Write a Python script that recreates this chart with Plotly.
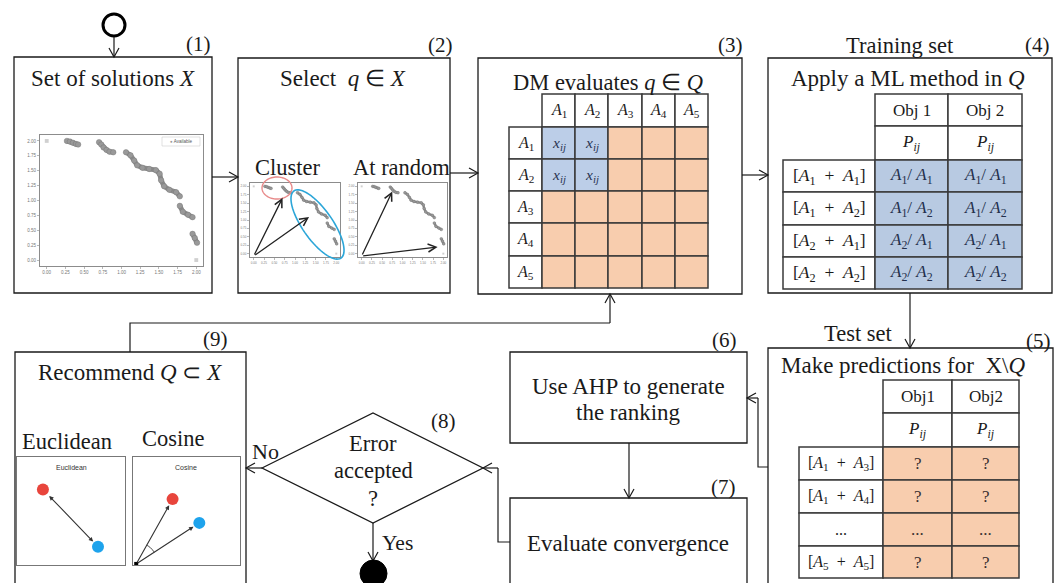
import re
import numpy as np
import plotly.graph_objects as go

W, H = 1062, 583

# ---------------- data ----------------
# Pareto front shown in the small scatter plots (None = gap between segments)
front_x = [0.27, 0.31, 0.35, 0.39, 0.42, None,
           0.70, 0.73, 0.76, 0.80, 0.84, 0.89, None,
           1.06, 1.12, 1.17, 1.21, 1.28, 1.37, 1.46, 1.51, 1.53, 1.57, 1.64, 1.73, 1.78, None,
           1.78, 1.82, 1.89, 1.95, None,
           1.95, 1.98, 2.01]
front_y = [2.00, 1.99, 1.97, 1.95, 1.94, None,
           1.98, 1.94, 1.89, 1.85, 1.82, 1.81, None,
           1.81, 1.76, 1.67, 1.59, 1.55, 1.53, 1.51, 1.45, 1.34, 1.24, 1.18, 1.14, 1.07, None,
           0.91, 0.81, 0.76, 0.72, None,
           0.44, 0.37, 0.29]
extreme_x = [0.00, 2.00]
extreme_y = [2.00, 0.00]
axis_ticks = [0.00, 0.25, 0.50, 0.75, 1.00, 1.25, 1.50, 1.75, 2.00]
axis_tick_text = ["0.00", "0.25", "0.50", "0.75", "1.00", "1.25", "1.50", "1.75", "2.00"]

cluster_picks_x = [0.70, 1.34]
cluster_picks_y = [1.66, 1.09]
random_picks_x = [0.75, 1.86]
random_picks_y = [1.85, 0.20]

alternatives = ["A1", "A2", "A3", "A4", "A5"]
evaluated = ["A1", "A2"]
pair_value = "xij"

objectives_train = ["Obj 1", "Obj 2"]
train_rows = ["[A1 + A1]", "[A1 + A2]", "[A2 + A1]", "[A2 + A2]"]
train_values = [["A1/ A1", "A1/ A1"], ["A1/ A2", "A1/ A2"],
                ["A2/ A1", "A2/ A1"], ["A2/ A2", "A2/ A2"]]

objectives_test = ["Obj1", "Obj2"]
test_rows = ["[A1 + A3]", "[A1 + A4]", "...", "[A5 + A5]"]
test_values = [["?", "?"], ["?", "?"], ["...", "..."], ["?", "?"]]

euclid_x = [0.24, 0.75]
euclid_y = [0.70, 0.17]
cosine_x = [0.37, 0.62]
cosine_y = [0.61, 0.39]
cosine_origin_x = [0.03]
cosine_origin_y = [0.01]
dot_colors = ["#e8453c", "#1ea3ec"]

# ---------------- styles ----------------
SERIF = "Liberation Serif, Times New Roman, serif"
SANS = "Liberation Sans, Arial, sans-serif"
INK = "#1a1a1a"
GRID = "#3a3a3a"
BLUE = "#bccee8"
BLUE2 = "#b8cae2"
ORANGE = "#f8cdae"
T = 23      # main text size
N = 21      # step number size


def math(s):
    s = re.sub(r"A(\d)", r"<i>A</i><sub>\1</sub>", s)
    s = s.replace("xij", "<i>x</i><sub><i>ij</i></sub>")
    s = s.replace("Pij", "<i>P</i><sub><i>ij</i></sub>")
    s = s.replace(" + ", "\u2002+\u2002")
    return s


shapes = []
annotations = []


def rect(x0, y0, x1, y1, fill="rgba(0,0,0,0)", color=INK, width=1.3):
    shapes.append(dict(type="rect", xref="x", yref="y", x0=x0, y0=y0, x1=x1, y1=y1,
                       line=dict(color=color, width=width), fillcolor=fill, layer="above"))


def path(p, color=INK, width=1.2, fill="rgba(0,0,0,0)", xref="x", yref="y"):
    shapes.append(dict(type="path", xref=xref, yref=yref, path=p,
                       line=dict(color=color, width=width), fillcolor=fill, layer="above"))


def text(x, y, s, size=T, family=SERIF, color=INK, xanchor="center"):
    annotations.append(dict(x=x, y=y, xref="x", yref="y", text=s, showarrow=False,
                            font=dict(size=size, family=family, color=color),
                            xanchor=xanchor, yanchor="middle"))


def arrow(x0, y0, x1, y1, hl=9.0, hw=5.0, width=1.2, color=INK):
    """Straight connector with an open V arrow head (main pixel space)."""
    dx, dy = x1 - x0, y1 - y0
    d = (dx * dx + dy * dy) ** 0.5
    ux, uy = dx / d, dy / d
    nx, ny = -uy, ux
    bx, by = x1 - hl * ux, y1 - hl * uy
    path(f"M{x0},{y0} L{x1},{y1}", color=color, width=width)
    path(f"M{bx + hw * nx:.2f},{by + hw * ny:.2f} L{x1},{y1} L{bx - hw * nx:.2f},{by - hw * ny:.2f}",
         color=color, width=width)


def data_arrow(x0, y0, x1, y1, ref, head=5, size=1.2, width=1.3, color="#222",
               side="end", standoff=0, startstandoff=0):
    annotations.append(dict(x=x1, y=y1, ax=x0, ay=y0, xref=ref[0], yref=ref[1],
                            axref=ref[0], ayref=ref[1], text="", showarrow=True,
                            arrowhead=head, startarrowhead=head, arrowside=side,
                            arrowsize=size, startarrowsize=size, arrowwidth=width,
                            arrowcolor=color, standoff=standoff, startstandoff=startstandoff))


def ellipse(cx, cy, a, b, ang_deg, n=72):
    t = np.linspace(0, 2 * np.pi, n)
    ang = np.deg2rad(ang_deg)
    xs = cx + a * np.cos(t) * np.cos(ang) - b * np.sin(t) * np.sin(ang)
    ys = cy + a * np.cos(t) * np.sin(ang) + b * np.sin(t) * np.cos(ang)
    return "M" + " L".join(f"{x:.2f},{y:.2f}" for x, y in zip(xs, ys)) + " Z"


# ---------------- start / (1) ----------------
shapes.append(dict(type="circle", xref="x", yref="y", x0=103, y0=14, x1=125, y1=36,
                   line=dict(color="black", width=3)))
arrow(114, 37, 114, 57)
rect(14, 57, 212, 293)
text(198, 44, "(1)", N)
text(113, 78, "Set of solutions <i>X</i>")
rect(162, 137, 200, 146, color="#cfcfcf", width=0.6)
text(181, 141.5, "<span style='color:#9a9a9a'>●</span> Available", 4.5, SANS, "#555")

arrow(212, 177, 238, 177)

# ---------------- (2) ----------------
rect(238, 58, 450, 293)
text(440, 45, "(2)", N)
text(343, 78, "Select  <i>q</i> ∈ <i>X</i>")
text(288, 167, "Cluster", 22.5)
text(401, 167, "At random", 22.5)
path(ellipse(277, 188, 15, 11, 0), color="#e88a8a", width=1.4)
path(ellipse(317.5, 224.5, 41, 15, 55), color="#2ca6d8", width=1.6)

arrow(450, 173, 478, 173)

# ---------------- (3) ----------------
rect(478, 58, 742, 294)
text(730, 45, "(3)", N)
text(608, 82, "DM evaluates <i>q</i> ∈ <i>Q</i>", 22.5)
col_x = [542, 575, 608, 642, 675, 708]
row_y = [127, 159, 191, 223, 256, 288]
for j, a in enumerate(alternatives):
    rect(col_x[j], 94, col_x[j + 1], 127, fill="white", color=GRID, width=1.5)
    text((col_x[j] + col_x[j + 1]) / 2, 110.5, math(a), 16)
for i, a in enumerate(alternatives):
    rect(509, row_y[i], 542, row_y[i + 1], fill="white", color=GRID, width=1.5)
    text(525.5, (row_y[i] + row_y[i + 1]) / 2, math(a), 16)
    for j, b in enumerate(alternatives):
        known = a in evaluated and b in evaluated
        rect(col_x[j], row_y[i], col_x[j + 1], row_y[i + 1],
             fill=BLUE if known else ORANGE, color=GRID, width=1.5)
        if known:
            text((col_x[j] + col_x[j + 1]) / 2, (row_y[i] + row_y[i + 1]) / 2,
                 math(pair_value), 15.5, color="#2a3452")

arrow(742, 175, 768, 175)

# ---------------- (4) ----------------
rect(768, 58, 1052, 293)
text(900, 45, "Training set", 22.5)
text(1037, 45, "(4)", N)
text(908, 78, "Apply a ML method in <i>Q</i>")
tc = [875, 948, 1022]
for j, o in enumerate(objectives_train):
    rect(tc[j], 94, tc[j + 1], 126, fill="white", color=GRID, width=1.5)
    text((tc[j] + tc[j + 1]) / 2, 110, o, 17)
    rect(tc[j], 126, tc[j + 1], 160, fill="white", color=GRID, width=1.5)
    text((tc[j] + tc[j + 1]) / 2, 143, math("Pij"), 17)
tr = [160, 192, 225, 257, 289]
for i, r in enumerate(train_rows):
    rect(783, tr[i], 875, tr[i + 1], fill="white", color=GRID, width=1.5)
    text(829, (tr[i] + tr[i + 1]) / 2, math(r), 17.5)
    for j in range(2):
        rect(tc[j], tr[i], tc[j + 1], tr[i + 1], fill=BLUE2, color=GRID, width=1.5)
        text((tc[j] + tc[j + 1]) / 2, (tr[i] + tr[i + 1]) / 2, math(train_values[i][j]),
             17, color="#24304d")

arrow(910, 293, 910, 348)

# ---------------- (5) ----------------
rect(768, 348, 1053, 640)
text(858, 333, "Test set", 22.5)
text(1038, 341, "(5)", N)
text(903, 365, "Make predictions for  X\\<i>Q</i>")
sc = [883, 952, 1019]
for j, o in enumerate(objectives_test):
    rect(sc[j], 380, sc[j + 1], 413, fill="white", color=GRID, width=1.5)
    text((sc[j] + sc[j + 1]) / 2, 396.5, o, 17)
    rect(sc[j], 413, sc[j + 1], 447, fill="white", color=GRID, width=1.5)
    text((sc[j] + sc[j + 1]) / 2, 430, math("Pij"), 17)
sr = [447, 480, 513, 546, 578]
for i, r in enumerate(test_rows):
    rect(799, sr[i], 883, sr[i + 1], fill="white", color=GRID, width=1.5)
    text(841, (sr[i] + sr[i + 1]) / 2, math(r), 16)
    for j in range(2):
        rect(sc[j], sr[i], sc[j + 1], sr[i + 1], fill=ORANGE, color=GRID, width=1.5)
        text((sc[j] + sc[j + 1]) / 2, (sr[i] + sr[i + 1]) / 2, test_values[i][j], 17,
             color="#3a3030")

path("M768,467 L758,467 L758,398")
arrow(758, 398, 747, 398)

# ---------------- (6) / (7) ----------------
rect(510, 352, 747, 443)
text(724, 340, "(6)", N)
text(628, 386, "Use AHP to generate")
text(628, 412, "the ranking")
arrow(629, 443, 629, 498)
rect(510, 498, 747, 640)
text(723, 487, "(7)", N)
text(628, 543, "Evaluate convergence")

path("M510,542 L498,542 L498,468")
arrow(498, 468, 483, 468)

# ---------------- (8) ----------------
path("M262,468 L373,413 L483,468 L373,523 Z", width=1.3)
text(443, 421, "(8)", N)
text(373, 443, "Error", 22.5)
text(373, 470, "accepted", 22.5)
text(373, 498, "?", 22.5)
text(265, 451, "No", 22)
arrow(262, 468, 246, 468)
arrow(373, 523, 373, 561)
text(397, 543, "Yes", 21.5)
shapes.append(dict(type="circle", xref="x", yref="y", x0=360, y0=560, x1=387, y1=587,
                   line=dict(color="black", width=1), fillcolor="black"))

# ---------------- (9) ----------------
rect(15, 352, 246, 640)
text(215, 339, "(9)", N)
text(130, 372, "Recommend <i>Q</i> ⊂ <i>X</i>")
text(67, 441, "Euclidean", 22.5)
text(173, 438, "Cosine", 22.5)
text(71, 467, "Euclidean", 7, SANS, "#333")
text(186, 467, "Cosine", 7, SANS, "#333")
path("M130,352 L130,323 L610,323")
arrow(610, 323, 610, 294)

# ---------------- figure & mini axes ----------------
fig = go.Figure()
layout = dict(
    width=W, height=H, margin=dict(l=0, r=0, t=0, b=0),
    paper_bgcolor="white", plot_bgcolor="white", showlegend=False, template="none",
    xaxis=dict(range=[0, W], domain=[0, 1], visible=False, automargin=False),
    yaxis=dict(range=[H, 0], domain=[0, 1], visible=False, automargin=False),
)


def mini_axes(n, x0, x1, y0, y1, xr, yr, tick_size=None, lc="#8c8c8c"):
    common = dict(showgrid=False, zeroline=False, showline=True, mirror=True,
                  linecolor=lc, linewidth=1, automargin=False)
    xa = dict(domain=[x0 / W, x1 / W], range=xr, anchor=f"y{n}", **common)
    ya = dict(domain=[1 - y1 / H, 1 - y0 / H], range=yr, anchor=f"x{n}", **common)
    if tick_size:
        for ax in (xa, ya):
            ax.update(tickvals=axis_ticks, ticktext=axis_tick_text, ticks="outside",
                      ticklen=2, tickcolor="#888", tickwidth=0.6,
                      tickfont=dict(size=tick_size, color="#777", family=SANS))
    else:
        for ax in (xa, ya):
            ax.update(showticklabels=False, ticks="")
    layout[f"xaxis{n}"] = xa
    layout[f"yaxis{n}"] = ya


mini_axes(2, 40, 203, 135, 266, [-0.09, 2.09], [-0.1, 2.1], tick_size=4.5)
mini_axes(3, 250, 340, 183, 257, [-0.09, 2.09], [-0.1, 2.1], tick_size=3)
mini_axes(4, 358, 447, 183, 257, [-0.09, 2.09], [-0.1, 2.1], tick_size=3)
mini_axes(5, 17, 125, 457, 565, [0, 1], [0, 1], lc="#777")
mini_axes(6, 133, 240, 457, 565, [0, 1], [0, 1], lc="#777")

for n, lw, ms in ((2, 5.0, 5.5), (3, 2.4, 2.8), (4, 2.4, 2.8)):
    fig.add_trace(go.Scatter(x=front_x, y=front_y, xaxis=f"x{n}", yaxis=f"y{n}",
                             mode="lines+markers", hoverinfo="skip",
                             line=dict(color="#8c8c8c", width=lw),
                             marker=dict(size=ms, color="#999999",
                                         line=dict(color="#727272", width=0.4))))
    fig.add_trace(go.Scatter(x=extreme_x, y=extreme_y, xaxis=f"x{n}", yaxis=f"y{n}",
                             mode="markers", hoverinfo="skip",
                             marker=dict(size=ms * 0.7, color="#d0d0d0", symbol="square")))

for px_, py_ in zip(cluster_picks_x, cluster_picks_y):
    data_arrow(0.0, -0.07, px_, py_, ("x3", "y3"))
for px_, py_ in zip(random_picks_x, random_picks_y):
    data_arrow(0.0, -0.07, px_, py_, ("x4", "y4"))

fig.add_trace(go.Scatter(x=euclid_x, y=euclid_y, xaxis="x5", yaxis="y5", mode="markers",
                         hoverinfo="skip", marker=dict(size=12, color=dot_colors)))
data_arrow(euclid_x[0], euclid_y[0], euclid_x[1], euclid_y[1], ("x5", "y5"), head=2,
           size=0.8, width=1.1, color="#333", side="end+start", standoff=7, startstandoff=7)

fig.add_trace(go.Scatter(x=cosine_x, y=cosine_y, xaxis="x6", yaxis="y6", mode="markers",
                         hoverinfo="skip", marker=dict(size=12, color=dot_colors)))
fig.add_trace(go.Scatter(x=cosine_origin_x, y=cosine_origin_y, xaxis="x6", yaxis="y6",
                         mode="markers", hoverinfo="skip",
                         marker=dict(size=4, color="black", symbol="square")))
for cx_, cy_ in zip(cosine_x, cosine_y):
    data_arrow(cosine_origin_x[0], cosine_origin_y[0], cx_, cy_, ("x6", "y6"), head=2,
               size=0.8, width=1.1, color="#333", standoff=7)
a0 = np.arctan2(cosine_y[1] - cosine_origin_y[0], cosine_x[1] - cosine_origin_x[0])
a1 = np.arctan2(cosine_y[0] - cosine_origin_y[0], cosine_x[0] - cosine_origin_x[0])
tt = np.linspace(a0, a1, 20)
arc = "M" + " L".join(f"{cosine_origin_x[0] + 0.2 * np.cos(t):.3f},"
                      f"{cosine_origin_y[0] + 0.2 * np.sin(t):.3f}" for t in tt)
path(arc, color="#333", width=1.0, xref="x6", yref="y6")

layout["shapes"] = shapes
layout["annotations"] = annotations
fig.update_layout(**layout)
fig.write_html("out.html",
               config={"displayModeBar": False, "staticPlot": True},
               post_script="document.body.style.margin='0px';"
                           "document.body.style.overflow='hidden';")
